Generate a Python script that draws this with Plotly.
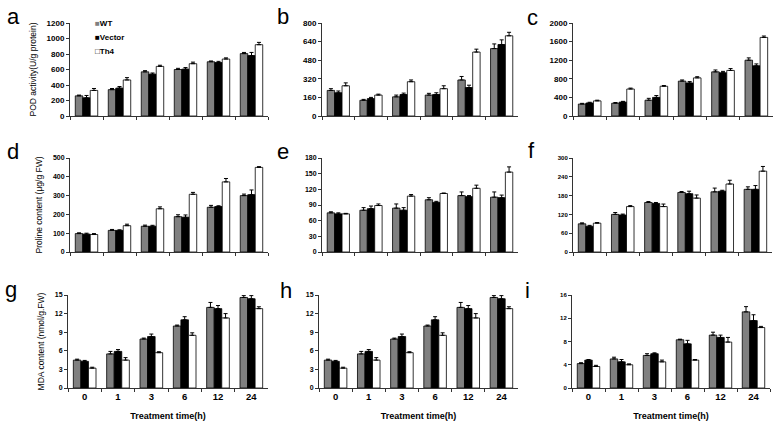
import plotly.graph_objects as go

categories = ["0", "1", "3", "6", "12", "24"]
series_names = ["WT", "Vector", "Th4"]

# Panel a: POD activity (U/g protein)
a_wt = [260, 340, 570, 600, 700, 805]
a_vec = [235, 360, 540, 605, 690, 780]
a_th4 = [330, 465, 640, 675, 735, 920]
a_wt_err = [10, 15, 15, 15, 10, 15]
a_vec_err = [30, 20, 15, 20, 15, 40]
a_th4_err = [25, 30, 15, 20, 15, 30]

# Panel b
b_wt = [220, 135, 165, 180, 310, 580]
b_vec = [200, 150, 185, 185, 245, 615]
b_th4 = [260, 180, 295, 235, 550, 690]
b_wt_err = [15, 8, 15, 15, 30, 40]
b_vec_err = [15, 10, 12, 15, 20, 40]
b_th4_err = [25, 8, 15, 25, 25, 30]

# Panel c
c_wt = [257, 275, 340, 750, 950, 1200]
c_vec = [280, 300, 400, 710, 930, 1080]
c_th4 = [325, 580, 640, 820, 980, 1690]
c_wt_err = [15, 15, 40, 25, 40, 50]
c_vec_err = [15, 15, 40, 30, 30, 40]
c_th4_err = [15, 20, 15, 25, 40, 30]

# Panel d: Proline content (ug/g FW)
d_wt = [98, 115, 137, 188, 238, 300]
d_vec = [95, 115, 137, 185, 242, 305]
d_th4 = [93, 140, 230, 307, 373, 450]
d_wt_err = [4, 5, 6, 10, 10, 8]
d_vec_err = [5, 3, 5, 12, 4, 25]
d_th4_err = [5, 8, 10, 10, 18, 4]

# Panel e
e_wt = [75, 80, 84, 100, 108, 105]
e_vec = [73, 83, 80, 95, 106, 104]
e_th4 = [73, 89, 107, 112, 122, 153]
e_wt_err = [2, 5, 8, 4, 7, 10]
e_vec_err = [2, 5, 5, 2, 2, 5]
e_th4_err = [1, 3, 3, 1, 6, 10]

# Panel f
f_wt = [90, 120, 158, 190, 192, 200]
f_vec = [82, 118, 155, 186, 194, 200]
f_th4 = [92, 145, 145, 172, 217, 258]
f_wt_err = [3, 6, 3, 3, 12, 8]
f_vec_err = [3, 3, 3, 8, 3, 12]
f_th4_err = [2, 3, 8, 10, 12, 15]

# Panel g: MDA content (nmol/g.FW)
g_wt = [4.5, 5.5, 7.9, 10.0, 13.0, 14.6]
g_vec = [4.3, 5.9, 8.3, 11.0, 12.8, 14.4]
g_th4 = [3.2, 4.5, 5.7, 8.5, 11.3, 12.8]
g_wt_err = [0.15, 0.4, 0.15, 0.15, 0.8, 0.3]
g_vec_err = [0.15, 0.3, 0.4, 0.5, 0.5, 0.5]
g_th4_err = [0.15, 0.4, 0.15, 0.4, 0.7, 0.3]

# Panel h
h_wt = [4.5, 5.5, 7.9, 10.0, 13.0, 14.6]
h_vec = [4.3, 5.9, 8.3, 11.0, 12.8, 14.4]
h_th4 = [3.2, 4.5, 5.7, 8.5, 11.3, 12.8]
h_wt_err = [0.15, 0.4, 0.15, 0.15, 0.8, 0.3]
h_vec_err = [0.15, 0.3, 0.4, 0.5, 0.5, 0.5]
h_th4_err = [0.15, 0.4, 0.15, 0.4, 0.7, 0.3]

# Panel i
i_wt = [4.2, 5.0, 5.6, 8.3, 9.1, 13.1]
i_vec = [4.8, 4.5, 5.9, 7.6, 8.7, 11.6]
i_th4 = [3.7, 4.0, 4.5, 4.8, 7.9, 10.4]
i_wt_err = [0.15, 0.3, 0.3, 0.1, 0.5, 0.9]
i_vec_err = [0.1, 0.4, 0.15, 0.6, 0.4, 1.0]
i_th4_err = [0.2, 0.15, 0.3, 0.1, 0.8, 0.2]

panels = [
    ("a", [a_wt, a_vec, a_th4], [a_wt_err, a_vec_err, a_th4_err], [0, 200, 400, 600, 800, 1000, 1200], 8),
    ("b", [b_wt, b_vec, b_th4], [b_wt_err, b_vec_err, b_th4_err], [0, 160, 320, 480, 640, 800], 8),
    ("c", [c_wt, c_vec, c_th4], [c_wt_err, c_vec_err, c_th4_err], [0, 400, 800, 1200, 1600, 2000], 8),
    ("d", [d_wt, d_vec, d_th4], [d_wt_err, d_vec_err, d_th4_err], [0, 100, 200, 300, 400, 500], 7),
    ("e", [e_wt, e_vec, e_th4], [e_wt_err, e_vec_err, e_th4_err], [0, 30, 60, 90, 120, 150, 180], 7),
    ("f", [f_wt, f_vec, f_th4], [f_wt_err, f_vec_err, f_th4_err], [0, 60, 120, 180, 240, 300], 6),
    ("g", [g_wt, g_vec, g_th4], [g_wt_err, g_vec_err, g_th4_err], [0, 3, 6, 9, 12, 15], 7),
    ("h", [h_wt, h_vec, h_th4], [h_wt_err, h_vec_err, h_th4_err], [0, 3, 6, 9, 12, 15], 7),
    ("i", [i_wt, i_vec, i_th4], [i_wt_err, i_vec_err, i_th4_err], [0, 4, 8, 12, 16], 6),
]

ytitles = {"a": "POD activity(U/g protein)", "d": "Proline content (μg/g FW)", "g": "MDA content (nmol/g.FW)"}

W, H = 776, 427
# pixel geometry: (x0, x1, ytop, ybottom)
geom = {
    "a": (70, 268, 23, 116), "b": (322, 518, 23, 116), "c": (573, 773, 23, 116),
    "d": (70, 268, 158, 252), "e": (322, 518, 158, 252), "f": (573, 772, 158, 252),
    "g": (68, 268, 295, 388), "h": (319, 518, 295, 388), "i": (572, 770, 295, 388),
}
letter_pos = {"a": (5, 16), "b": (275, 16), "c": (525, 17), "d": (5, 152), "e": (275, 152),
              "f": (526, 151), "g": (3, 289), "h": (278, 290), "i": (523, 290)}

colors = ["#808080", "#000000", "#ffffff"]
legend_glyphs = ["■", "■", "□"]
legend_glyph_colors = ["#808080", "#000000", "#000000"]
FONT = "Arial, Liberation Sans, sans-serif"

fig = go.Figure()
layout = dict(
    width=W, height=H, margin=dict(l=0, r=0, t=0, b=0),
    paper_bgcolor="white", plot_bgcolor="white",
    barmode="group", bargap=0.32, bargroupgap=0,
    showlegend=False,
    font=dict(family=FONT, color="black"),
)
annotations = []
for idx, (name, vals, errs, ticks, tfs) in enumerate(panels):
    n = idx + 1
    xa = "x" if n == 1 else f"x{n}"
    ya = "y" if n == 1 else f"y{n}"
    for s in range(3):
        fig.add_trace(go.Bar(
            x=categories, y=vals[s], name=series_names[s],
            marker=dict(color=colors[s], line=dict(color="black", width=0.8)),
            error_y=dict(type="data", array=errs[s], arrayminus=[0] * 6, symmetric=False,
                         color="black", thickness=1, width=2),
            xaxis=xa, yaxis=ya,
        ))
    x0, x1, yt, yb = geom[name]
    bottom = name in ("g", "h", "i")
    layout["xaxis" if n == 1 else f"xaxis{n}"] = dict(
        domain=[x0 / W, x1 / W], anchor=ya, type="category", automargin=False,
        showline=True, linecolor="#333", linewidth=1, ticks="outside", tickson="boundaries",
        ticklen=3, tickcolor="#333", showgrid=False, showticklabels=bottom,
        tickfont=dict(family=FONT, size=9.5, color="black", weight="bold"),
        title=dict(text="Treatment time(h)" if bottom else "",
                   font=dict(family=FONT, size=9, color="black", weight="bold"), standoff=11),
    )
    layout["yaxis" if n == 1 else f"yaxis{n}"] = dict(
        domain=[1 - yb / H, 1 - yt / H], anchor=xa, range=[0, ticks[-1]], automargin=False,
        tickvals=ticks, showline=True, linecolor="#333", linewidth=1, ticks="outside",
        ticklen=3, tickcolor="#333", showgrid=False, zeroline=False,
        tickfont=dict(family=FONT, size=tfs, color="black", weight="bold"),
        title=dict(text=ytitles.get(name, ""), font=dict(family=FONT, size=8.5, color="black"),
                   standoff=8),
    )
    lx, ly = letter_pos[name]
    annotations.append(dict(text=name, x=lx / W, y=1 - ly / H, xref="paper", yref="paper",
                            showarrow=False, xanchor="left", yanchor="middle",
                            font=dict(family=FONT, size=22, color="black")))

# legend (inside panel a)
legend_y = [24, 37.5, 51]
for s in range(3):
    annotations.append(dict(
        text=f"<span style='color:{legend_glyph_colors[s]}'>{legend_glyphs[s]}</span>{series_names[s]}",
        x=93 / W, y=1 - legend_y[s] / H, xref="paper", yref="paper", showarrow=False,
        xanchor="left", yanchor="middle",
        font=dict(family=FONT, size=8, color="black", weight="bold")))

layout["annotations"] = annotations
fig.update_layout(**layout)
fig.write_html("out.html", config={"displayModeBar": False},
               post_script="document.body.style.margin='0';")
